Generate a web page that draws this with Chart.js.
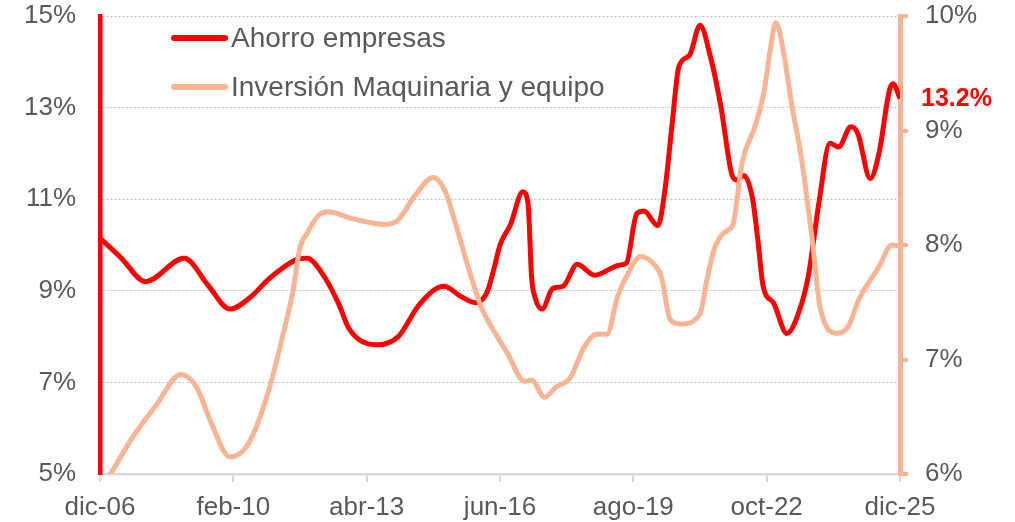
<!DOCTYPE html>
<html>
<head>
<meta charset="utf-8">
<script src="https://cdn.jsdelivr.net/npm/chart.js@4/dist/chart.umd.min.js"></script>
<style>
  html, body { margin: 0; padding: 0; background: #fff; }
  #wrap { width: 1015px; height: 522px; }
</style>
</head>
<body>
<div id="wrap"><canvas id="chart" width="1015" height="522"></canvas></div>
<script>
// meses desde dic-06 (0 = dic-06, 228 = dic-25)
const xLabels = ['dic-06', 'feb-10', 'abr-13', 'jun-16', 'ago-19', 'oct-22', 'dic-25'];
const xStep = 38;

const ahorroMes = [0, 6, 13, 24, 31, 37, 43, 48, 56, 59, 64, 68, 71, 79, 85, 91, 98, 103, 107, 110, 111,
  112.5, 114, 117, 120.5, 122, 123, 124, 126, 129, 132, 136, 141, 148, 150, 153, 155, 159, 161, 163, 165,
  168, 171, 174, 177, 180, 181.5, 183.5, 186, 187.5, 189, 192, 195.7, 200, 202, 205, 208, 210.5, 214, 216,
  219.5, 222, 225, 226, 228];
const ahorro = [10.15, 9.72, 9.2, 9.71, 9.1, 8.6, 8.87, 9.25, 9.68, 9.71, 9.3, 8.72, 8.17, 7.82, 8.0, 8.7,
  9.1, 8.87, 8.74, 8.92, 9.12, 9.55, 10.0, 10.45, 11.16, 10.9, 9.3, 8.85, 8.6, 9.05, 9.1, 9.58, 9.34, 9.56,
  9.6, 10.69, 10.74, 10.42, 11.2, 12.6, 13.9, 14.14, 14.8, 14.1, 13.0, 11.56, 11.42, 11.52, 11.0, 10.1, 9.1,
  8.73, 8.07, 8.73, 9.38, 10.98, 12.22, 12.14, 12.58, 12.43, 11.45, 12.0, 13.38, 13.52, 13.2];

const inversionMes = [0, 3, 9.5, 16, 23, 27.5, 31.5, 37, 42, 47.5, 52.5, 55, 57, 59, 62, 65, 72, 81, 85,
  89.5, 95, 98.5, 101, 105, 108.5, 114, 116, 121, 123, 126.7, 130, 134, 138, 141.5, 144.5, 147.5, 151, 154,
  158.5, 160, 162.5, 165.5, 171, 173, 175, 177, 179, 180.5, 183, 186.7, 189.3, 191, 192.6, 195, 197, 200,
  203, 205.2, 210, 213.3, 216.2, 222, 225.7, 228];
const inversion = [5.86, 6.0, 6.33, 6.6, 6.87, 6.76, 6.46, 6.15, 6.25, 6.67, 7.26, 7.6, 7.98, 8.1, 8.25,
  8.29, 8.23, 8.18, 8.22, 8.42, 8.59, 8.46, 8.22, 7.8, 7.47, 7.16, 7.06, 6.81, 6.82, 6.67, 6.76, 6.84, 7.11,
  7.22, 7.22, 7.55, 7.78, 7.9, 7.81, 7.72, 7.35, 7.31, 7.4, 7.7, 7.96, 8.08, 8.13, 8.19, 8.72, 9.04, 9.35,
  9.7, 9.94, 9.65, 9.25, 8.74, 8.04, 7.46, 7.23, 7.29, 7.52, 7.81, 8.0, 7.99];

const ROJO = '#FF0000';
const SALMON = '#F9B493';
const GRIS = '#595959';
const FUENTE = "'Liberation Sans', Arial, sans-serif";

function toPoints(xs, ys) {
  return xs.map((x, i) => ({ x: x, y: ys[i] }));
}

// sin margen extra por etiquetas, el area queda fija
function sinPadding(s) {
  s.paddingTop = 0;
  s.paddingBottom = 0;
  s.paddingLeft = 0;
  s.paddingRight = 0;
}

// leyenda dentro del area del grafico
const leyenda = {
  id: 'leyenda',
  afterDraw(chart) {
    const ctx = chart.ctx;
    const filas = [38, 87];
    ctx.save();
    chart.data.datasets.forEach((ds, i) => {
      const y = filas[i];
      ctx.strokeStyle = ds.borderColor;
      ctx.lineWidth = 6;
      ctx.lineCap = 'round';
      ctx.beginPath();
      ctx.moveTo(174, y);
      ctx.lineTo(225, y);
      ctx.stroke();
      ctx.fillStyle = GRIS;
      ctx.font = '28px ' + FUENTE;
      ctx.textBaseline = 'middle';
      ctx.textAlign = 'left';
      ctx.fillText(ds.label, 231, y + 1);
    });
    ctx.restore();
  }
};

// etiqueta del ultimo valor
const ultimoValor = {
  id: 'ultimoValor',
  afterDatasetsDraw(chart) {
    const meta = chart.getDatasetMeta(0);
    const pt = meta.data[meta.data.length - 1];
    const ctx = chart.ctx;
    ctx.save();
    ctx.fillStyle = ROJO;
    ctx.font = 'bold 25px ' + FUENTE;
    ctx.textBaseline = 'middle';
    ctx.textAlign = 'left';
    ctx.fillText(ahorro[ahorro.length - 1].toFixed(1) + '%', chart.chartArea.right + 21, pt.y + 1);
    ctx.restore();
  }
};

new Chart(document.getElementById('chart'), {
  type: 'line',
  data: {
    datasets: [
      {
        label: 'Ahorro empresas',
        data: toPoints(ahorroMes, ahorro),
        yAxisID: 'y',
        borderColor: ROJO,
        borderWidth: 5,
        pointRadius: 0,
        cubicInterpolationMode: 'monotone',
        order: 2
      },
      {
        label: 'Inversión Maquinaria y equipo',
        data: toPoints(inversionMes, inversion),
        yAxisID: 'y1',
        borderColor: SALMON,
        borderWidth: 5,
        pointRadius: 0,
        cubicInterpolationMode: 'monotone',
        order: 1
      }
    ]
  },
  options: {
    responsive: false,
    animation: false,
    layout: { padding: { top: 16, left: 0, right: 0, bottom: 0 } },
    plugins: {
      legend: { display: false },
      tooltip: { enabled: false }
    },
    scales: {
      x: {
        type: 'linear',
        min: 0,
        max: 228,
        afterFit: (s) => { s.height = 48; sinPadding(s); },
        afterBuildTicks: (s) => {
          s.ticks = xLabels.map((_, i) => ({ value: i * xStep }));
        },
        ticks: {
          color: GRIS,
          font: { size: 26, family: FUENTE },
          padding: 10,
          maxRotation: 0,
          autoSkip: false,
          callback: (v) => xLabels[Math.round(v / xStep)]
        },
        grid: { drawOnChartArea: false, drawTicks: true, tickLength: 8, color: '#D9D9D9', lineWidth: 2 },
        border: { color: '#D9D9D9', width: 2.5 }
      },
      y: {
        position: 'left',
        min: 5,
        max: 15,
        afterFit: (s) => { s.width = 100; sinPadding(s); },
        ticks: {
          stepSize: 2,
          color: GRIS,
          font: { size: 26, family: FUENTE },
          padding: 24,
          callback: (v) => v + '%'
        },
        grid: { color: '#BFBFBF', lineWidth: 1, drawTicks: false },
        border: { color: ROJO, width: 4.5, dash: [2, 2] }
      },
      y1: {
        position: 'right',
        min: 6,
        max: 10,
        afterFit: (s) => { s.width = 115; sinPadding(s); },
        ticks: {
          stepSize: 1,
          color: GRIS,
          font: { size: 26, family: FUENTE },
          padding: 17,
          callback: (v) => v + '%'
        },
        grid: { drawOnChartArea: false, drawTicks: true, tickLength: 8, color: SALMON, lineWidth: 4 },
        border: { color: SALMON, width: 5 }
      }
    }
  },
  plugins: [leyenda, ultimoValor]
});
</script>
</body>
</html>
